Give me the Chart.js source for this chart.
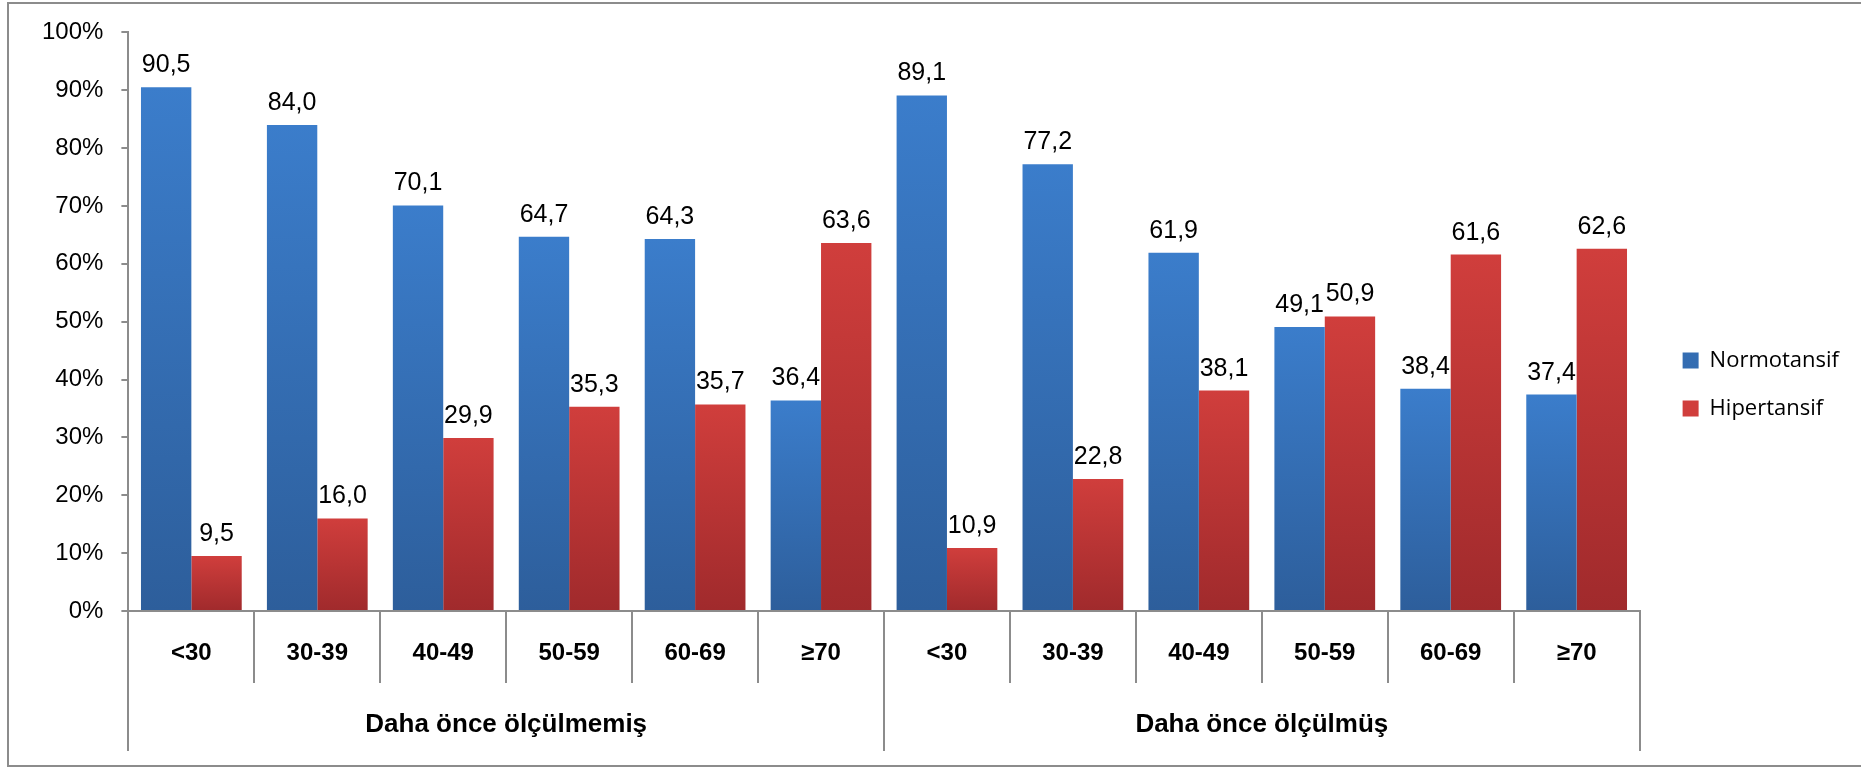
<!DOCTYPE html>
<html>
<head>
<meta charset="utf-8">
<script src="https://cdn.jsdelivr.net/npm/chart.js@4.4.1/dist/chart.umd.min.js"></script>
<style>
  html, body { margin: 0; padding: 0; background: #fff; }
  #kutu { position: relative; width: 1861px; height: 767px; }
</style>
</head>
<body>
<div id="kutu"><canvas id="grafik"></canvas></div>
<script>
const yasGruplari = ['<30', '30-39', '40-49', '50-59', '60-69', '≥70', '<30', '30-39', '40-49', '50-59', '60-69', '≥70'];
const olcumGruplari = ['Daha önce ölçülmemiş', 'Daha önce ölçülmüş'];
const normotansif = [90.5, 84.0, 70.1, 64.7, 64.3, 36.4, 89.1, 77.2, 61.9, 49.1, 38.4, 37.4];
const hipertansif = [9.5, 16.0, 29.9, 35.3, 35.7, 63.6, 10.9, 22.8, 38.1, 50.9, 61.6, 62.6];

const gri = '#8c8c8c';

// her cubuk kendi boyunda ustten alta koyulasiyor
function cubukRengi(c, ust, alt) {
  const y = c.chart.scales.y;
  if (!y || !c.parsed) return ust;
  const y0 = y.getPixelForValue(c.parsed.y);
  const y1 = y.getPixelForValue(0);
  if (!isFinite(y0) || !isFinite(y1) || y0 === y1) return ust;
  const g = c.chart.ctx.createLinearGradient(0, y0, 0, y1);
  g.addColorStop(0, ust);
  g.addColorStop(1, alt);
  return g;
}

const degerEtiketleri = {
  id: 'degerEtiketleri',
  afterDatasetsDraw(chart) {
    const ctx = chart.ctx;
    ctx.save();
    ctx.font = '25px "Liberation Sans"';
    ctx.fillStyle = '#000';
    ctx.textAlign = 'center';
    ctx.textBaseline = 'alphabetic';
    chart.data.datasets.forEach((ds, i) => {
      chart.getDatasetMeta(i).data.forEach((bar, j) => {
        ctx.fillText(ds.data[j].toFixed(1).replace('.', ','), bar.x, bar.y - 15);
      });
    });
    ctx.restore();
  }
};

const cerceve = {
  id: 'cerceve',
  beforeDraw(chart) {
    const ctx = chart.ctx;
    ctx.save();
    ctx.strokeStyle = gri;
    ctx.lineWidth = 2;
    ctx.strokeRect(8, 3, 1880, 763);
    ctx.restore();
  }
};

new Chart(document.getElementById('grafik'), {
  type: 'bar',
  data: {
    labels: yasGruplari,
    datasets: [{
      label: 'Normotansif',
      data: normotansif,
      backgroundColor: c => cubukRengi(c, '#3b7dcb', '#2d5e9b'),
      borderWidth: 0,
      categoryPercentage: 0.8,
      barPercentage: 1.0
    }, {
      label: 'Hipertansif',
      data: hipertansif,
      backgroundColor: c => cubukRengi(c, '#d03e3c', '#a02a2c'),
      borderWidth: 0,
      categoryPercentage: 0.8,
      barPercentage: 1.0
    }]
  },
  options: {
    responsive: true,
    maintainAspectRatio: false,
    animation: false,
    layout: { padding: { left: 24, top: 18, bottom: 16, right: 12 } },
    plugins: {
      tooltip: { enabled: false },
      legend: {
        position: 'right',
        align: 'center',
        labels: {
          boxWidth: 16,
          boxHeight: 16,
          padding: 26,
          color: '#000',
          font: { family: 'Open Sans', size: 22 }
        }
      }
    },
    scales: {
      y: {
        min: 0,
        max: 100,
        ticks: {
          stepSize: 10,
          callback: v => v + '%',
          color: '#000',
          padding: 18,
          font: { family: 'Liberation Sans', size: 24 }
        },
        grid: { drawOnChartArea: false, tickLength: 7, color: gri, lineWidth: 2 },
        border: { color: gri, width: 2 }
      },
      x: {
        weight: 0,
        grid: { offset: true, drawOnChartArea: false, tickLength: 72, color: gri, lineWidth: 2 },
        border: { color: gri, width: 2 },
        ticks: {
          autoSkip: false,
          maxRotation: 0,
          padding: -44,
          color: '#000',
          font: { family: 'Liberation Sans', size: 24, weight: 'bold' }
        },
        afterFit: s => { s.height = 72; }
      },
      x2: {
        type: 'category',
        labels: olcumGruplari,
        position: 'bottom',
        weight: 1,
        offset: true,
        grid: { offset: true, drawOnChartArea: false, tickLength: 68, color: gri, lineWidth: 2 },
        border: { display: false },
        ticks: {
          maxRotation: 0,
          padding: -42,
          color: '#000',
          font: { family: 'Liberation Sans', size: 26, weight: 'bold' }
        },
        afterFit: s => { s.height = 68; }
      },
      bosluk: {
        type: 'linear',
        position: 'right',
        display: true,
        grid: { display: false },
        border: { display: false },
        ticks: { display: false },
        afterFit: s => { s.width = 17; }
      }
    }
  },
  plugins: [cerceve, degerEtiketleri]
});
</script>
</body>
</html>
